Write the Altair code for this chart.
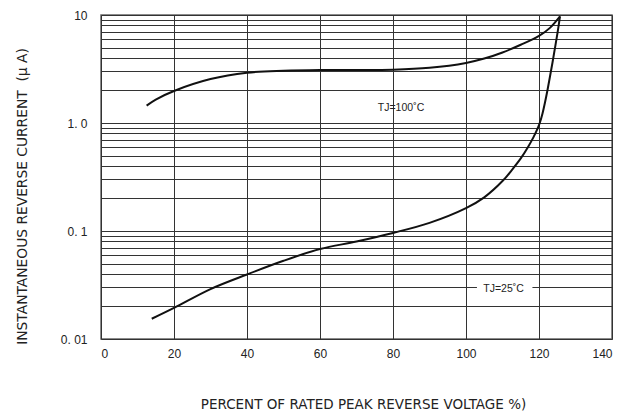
import altair as alt
import pandas as pd

# TJ = 100 C curve
x100 = [12.5, 15, 20, 30, 40, 50, 60, 70, 80, 90, 100, 105, 110, 115, 120, 123.0, 125.75]
y100 = [1.45, 1.65, 1.98, 2.55, 2.92, 3.05, 3.1, 3.1, 3.12, 3.25, 3.6, 3.95, 4.5, 5.3, 6.4, 7.6, 9.7]

# TJ = 25 C curve
x25 = [13.9, 20, 30, 40, 50, 60, 70, 80, 90, 100, 105, 110, 112.5, 115, 117, 118.5,
       119.6, 120.27, 120.96, 121.64, 122.33, 123.01, 123.7, 124.38, 125.07, 125.75]
y25 = [0.0154, 0.0194, 0.029, 0.0396, 0.053, 0.068, 0.080, 0.096, 0.119, 0.163, 0.205, 0.29, 0.365, 0.47, 0.6, 0.74,
       0.885, 1.016, 1.226, 1.55, 2.023, 2.698, 3.636, 4.953, 6.82, 9.7]

x_ticks = [0, 20, 40, 60, 80, 100, 120, 140]
y_major = [0.01, 0.1, 1.0, 10.0]
y_major_labels = ["0. 01", "0. 1", "1. 0", "10"]
y_minor_mult = [1, 2, 3, 4, 5, 6, 7, 8, 9]

label_text = ["TJ=100˚C", "TJ=25˚C"]
label_x = [82.2, 110.3]
label_y = [1.38, 0.029]

# white gap behind the 25C label
gap_x = [103.0]
gap_x2 = [118.2]
gap_y = [0.0272]
gap_y2 = [0.0310]

y_grid = []
for d in y_major[:-1]:
    for m in y_minor_mult:
        y_grid.append(round(d * m, 6))
y_grid.append(10.0)

expr = ""
for v, t in zip(y_major, y_major_labels):
    expr += f"abs(datum.value - {v}) < {v}*1e-6 ? '{t}' : "
expr += "''"

curves = pd.DataFrame({
    "x": x100 + x25,
    "y": y100 + y25,
    "series": ["100"] * len(x100) + ["25"] * len(x25),
})
labels = pd.DataFrame({"t": label_text, "x": label_x, "y": label_y})
gaps = pd.DataFrame({"x": gap_x, "x2": gap_x2, "y": gap_y, "y2": gap_y2})

xscale = alt.Scale(domain=[0, 140], nice=False)
yscale = alt.Scale(type="log", domain=[0.01, 10], nice=False)

xaxis = alt.Axis(
    values=x_ticks, grid=True, gridColor="#333", gridWidth=1, domain=False, ticks=False,
    labelFont="Liberation Sans", labelFontSize=12, labelColor="#222", labelPadding=9,
    title="PERCENT OF RATED PEAK REVERSE VOLTAGE %)", titleFont="DejaVu Sans",
    titleFontSize=13.5, titleFontWeight="normal", titleColor="#222",
    titleX=262, titleY=69, titleBaseline="alphabetic", titleAnchor="middle",
)
yaxis = alt.Axis(
    values=y_grid, grid=True, gridColor="#333", gridWidth=1, domain=False, ticks=False,
    labelExpr=expr, labelFont="Liberation Sans", labelFontSize=12, labelColor="#222",
    labelPadding=14,
    title="INSTANTANEOUS REVERSE CURRENT\u00a0\u00a0(μ A)", titleFont="DejaVu Sans",
    titleFontSize=13.8, titleFontWeight="normal", titleColor="#222",
    titleX=-79, titleY=181, titleBaseline="middle", titleAlign="center",
)

base_line = alt.Chart(curves).mark_line(color="#111", strokeWidth=2, interpolate="catmull-rom").encode(
    x=alt.X("x:Q", scale=xscale, axis=xaxis),
    y=alt.Y("y:Q", scale=yscale, axis=yaxis),
    detail="series:N",
)

gap = alt.Chart(gaps).mark_rect(color="white").encode(
    x=alt.X("x:Q", scale=xscale), x2="x2:Q",
    y=alt.Y("y:Q", scale=yscale), y2="y2:Q",
)

text = alt.Chart(labels).mark_text(font="Liberation Sans", fontSize=10.5, color="#222").encode(
    x=alt.X("x:Q", scale=xscale),
    y=alt.Y("y:Q", scale=yscale),
    text="t:N",
)

chart = alt.layer(base_line, gap, text).properties(
    width=511, height=324,
    autosize=alt.AutoSizeParams(type="none"),
    padding={"left": 93, "top": 7, "right": 14, "bottom": 72},
    background="white",
).configure_view(stroke="#666", strokeWidth=1.5)

chart.save("out.html", embed_options={"renderer": "svg", "actions": False})
